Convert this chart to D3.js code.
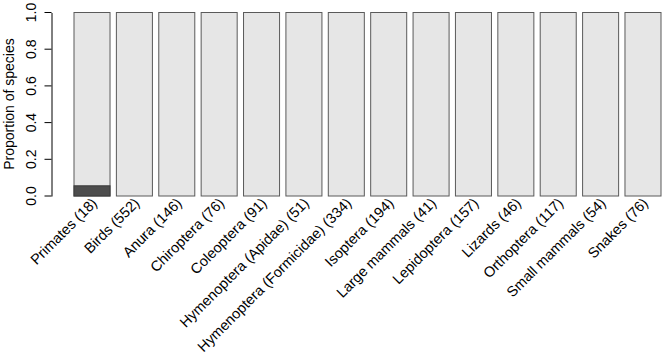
<!DOCTYPE html>
<html lang="en">
<head>
<meta charset="utf-8">
<script src="https://d3js.org/d3.v7.min.js"></script>
<style>
  body { margin: 0; background: #fff; }
  text { font-family: "Liberation Sans", Arial, sans-serif; }
</style>
</head>
<body>
<svg width="666" height="359"></svg>
<script>
// taxa, number of species, and proportion in the dark category
var taxa = ["Primates", "Birds", "Anura", "Chiroptera", "Coleoptera", "Hymenoptera (Apidae)",
  "Hymenoptera (Formicidae)", "Isoptera", "Large mammals", "Lepidoptera", "Lizards",
  "Orthoptera", "Small mammals", "Snakes"];
var counts = [18, 552, 146, 76, 91, 51, 334, 194, 41, 157, 46, 117, 54, 76];
var darkProp = [1 / 18, 0, 0, 0, 0, 0, 0, 0, 0, 0, 0, 0, 0, 0];
var yTicks = [0, 0.2, 0.4, 0.6, 0.8, 1.0];

var svg = d3.select("svg");

var x = d3.scaleBand()
    .domain(taxa)
    .range([74, 661])
    .paddingInner(0.15)
    .paddingOuter(0);

var y = d3.scaleLinear().domain([0, 1]).range([196, 12.5]);

// whole bar in light grey, dark part drawn over it
var bars = svg.append("g");
bars.selectAll("rect.light")
  .data(taxa)
  .enter().append("rect")
    .attr("class", "light")
    .attr("x", function(d) { return x(d); })
    .attr("y", y(1))
    .attr("width", x.bandwidth())
    .attr("height", y(0) - y(1))
    .attr("fill", "#e6e6e6")
    .attr("stroke", "#5a5a5a")
    .attr("stroke-width", 1);

bars.selectAll("rect.dark")
  .data(taxa.filter(function(d, i) { return darkProp[i] > 0; }))
  .enter().append("rect")
    .attr("class", "dark")
    .attr("x", function(d) { return x(d); })
    .attr("y", function(d) { return y(darkProp[taxa.indexOf(d)]); })
    .attr("width", x.bandwidth())
    .attr("height", function(d) { return y(0) - y(darkProp[taxa.indexOf(d)]); })
    .attr("fill", "#4d4d4d")
    .attr("stroke", "#3a3a3a")
    .attr("stroke-width", 1);

// y axis, R style with vertical tick labels
var yAxis = svg.append("g")
    .attr("transform", "translate(51.5,0)")
    .call(d3.axisLeft(y).tickValues(yTicks).tickFormat(d3.format(".1f")).tickSize(7).tickSizeOuter(0));
yAxis.select(".domain").attr("stroke", "#000");
yAxis.selectAll(".tick").attr("transform", null);
yAxis.selectAll(".tick line")
    .attr("stroke", "#000")
    .attr("y1", function(d) { return y(d); })
    .attr("y2", function(d) { return y(d); });
yAxis.selectAll(".tick text")
    .attr("font-size", 14)
    .attr("fill", "#000")
    .attr("text-anchor", "middle")
    .attr("transform", "rotate(-90)")
    .attr("x", function(d) { return -y(d); })
    .attr("y", -16)
    .attr("dy", null);

svg.append("text")
    .attr("transform", "translate(14,104) rotate(-90)")
    .attr("text-anchor", "middle")
    .attr("font-size", 14)
    .text("Proportion of species");

// rotated category labels
svg.append("g").selectAll("text")
  .data(taxa)
  .enter().append("text")
    .attr("text-anchor", "end")
    .attr("font-size", 14.5)
    .attr("transform", function(d) {
      return "translate(" + (x(d) + x.bandwidth() / 2 + 6) + ",204) rotate(-45)";
    })
    .text(function(d, i) { return d + " (" + counts[i] + ")"; });
</script>
</body>
</html>
